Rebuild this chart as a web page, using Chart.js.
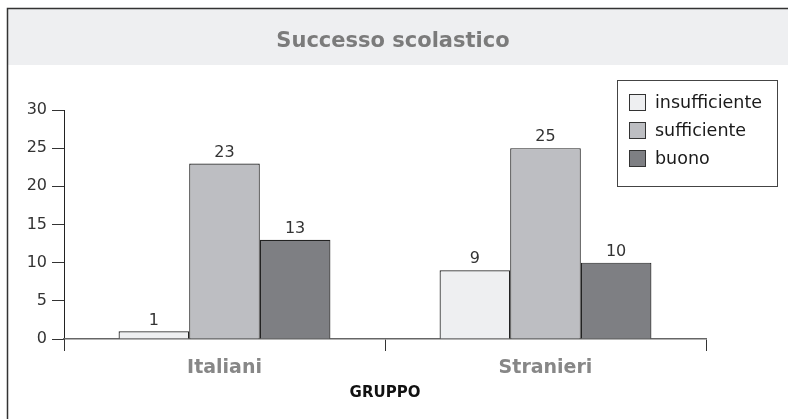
<!DOCTYPE html>
<html>
<head>
<meta charset="utf-8">
<script src="https://cdn.jsdelivr.net/npm/chart.js@4/dist/chart.umd.min.js"></script>
<style>
  html, body { margin:0; padding:0; background:#fff; }
  #wrap { width:788px; height:419px; }
</style>
</head>
<body>
<div id="wrap"><canvas id="chart" width="788" height="419"></canvas></div>
<script>
// groups and score counts
const groups = ['Italiani', 'Stranieri'];
const insufficiente = [1, 9];
const sufficiente = [23, 25];
const buono = [13, 10];
const seriesNames = ['insufficiente', 'sufficiente', 'buono'];
const seriesColors = ['#eeeff1', '#bdbec2', '#7e7f83'];
const yTicks = [0, 5, 10, 15, 20, 25, 30];

const FONT = '"DejaVu Sans", sans-serif';

// frame, grey title band and heading
const framePlugin = {
  id: 'frame',
  beforeDraw(chart){
    const c = chart.ctx;
    c.save();
    c.fillStyle = '#eeeff1';
    c.fillRect(7, 8, 781, 57);
    c.strokeStyle = '#333';
    c.lineWidth = 1.5;
    c.beginPath();
    c.moveTo(7.5, 419); c.lineTo(7.5, 8.5); c.lineTo(788, 8.5);
    c.stroke();
    c.fillStyle = '#7b7b7b';
    c.font = 'bold 21px ' + FONT;
    c.textAlign = 'center';
    c.textBaseline = 'middle';
    c.fillText('Successo scolastico', 393, 42);
    c.restore();
  }
};

// numbers above each bar
const valuePlugin = {
  id: 'values',
  afterDatasetsDraw(chart){
    const c = chart.ctx;
    c.save();
    c.fillStyle = '#333';
    c.font = '16px ' + FONT;
    c.textAlign = 'center';
    c.textBaseline = 'bottom';
    chart.data.datasets.forEach((ds, i) => {
      chart.getDatasetMeta(i).data.forEach((bar, j) => {
        c.fillText(String(ds.data[j]), bar.x, bar.y - 3);
      });
    });
    c.restore();
  }
};

// boxed legend in the upper right
const legendPlugin = {
  id: 'boxLegend',
  afterDraw(chart){
    const c = chart.ctx;
    c.save();
    c.fillStyle = '#fff';
    c.fillRect(617, 80, 160, 106);
    c.strokeStyle = '#444';
    c.lineWidth = 1;
    c.strokeRect(617.5, 80.5, 160, 106);
    c.font = '17.5px ' + FONT;
    c.textBaseline = 'middle';
    chart.data.datasets.forEach((ds, i) => {
      const y = 102 + i * 28;
      c.fillStyle = ds.backgroundColor;
      c.fillRect(629, y - 8, 17, 17);
      c.strokeStyle = '#333';
      c.strokeRect(629.5, y - 7.5, 16, 16);
      c.fillStyle = '#1a1a1a';
      c.fillText(ds.label, 655, y + 1);
    });
    c.restore();
  }
};

const values = [insufficiente, sufficiente, buono];

new Chart(document.getElementById('chart'), {
  type: 'bar',
  data: {
    labels: groups,
    datasets: seriesNames.map((name, i) => ({
      label: name,
      data: values[i],
      backgroundColor: seriesColors[i],
      borderColor: '#222',
      borderWidth: 1.2,
      borderSkipped: 'bottom',
      categoryPercentage: 0.66,
      barPercentage: 1.0
    }))
  },
  options: {
    responsive: false,
    animation: false,
    layout: { padding: { left: 8, right: 82, top: 110, bottom: 13 } },
    plugins: { legend: { display: false }, title: { display: false }, tooltip: { enabled: false } },
    scales: {
      y: {
        min: 0, max: 30,
        afterBuildTicks(s){ s.ticks = yTicks.map(v => ({ value: v })); },
        afterFit(s){ s.width = 56; },
        grid: { drawOnChartArea: false, drawTicks: true, tickLength: 12, color: '#333' },
        border: { display: true, color: '#222', width: 1 },
        ticks: { color: '#333', font: { family: FONT, size: 16 }, padding: 5 }
      },
      x: {
        offset: true,
        afterFit(s){ s.height = 67; },
        grid: { offset: true, drawOnChartArea: false, drawTicks: true, tickLength: 12, color: '#333' },
        border: { display: true, color: '#666', width: 1.5 },
        ticks: { color: '#878787', font: { family: FONT, size: 19, weight: 'bold' }, padding: 6 },
        title: { display: true, text: 'GRUPPO', color: '#111', font: { family: FONT, size: 15, weight: 'bold' }, padding: { top: 6 } }
      }
    }
  },
  plugins: [framePlugin, valuePlugin, legendPlugin]
});
</script>
</body>
</html>
